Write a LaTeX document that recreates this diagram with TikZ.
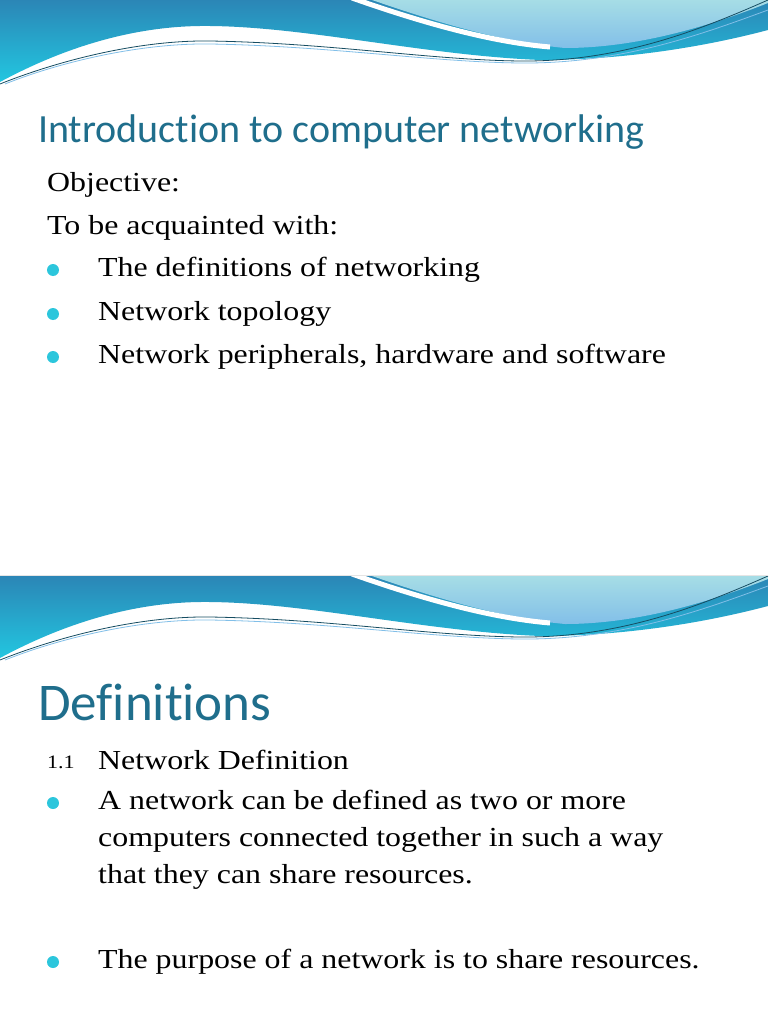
\documentclass[tikz,border=0pt]{standalone}
\usepackage{fontspec}
\setmainfont[FakeStretch=1.16]{Liberation Serif}
\newfontfamily\titlefont[Ligatures={NoCommon,NoRare,NoDiscretionary}]{Carlito}
\definecolor{ttl}{HTML}{1F6E8C}
\definecolor{bul}{HTML}{2CC6DC}
\definecolor{dkb}{HTML}{2B86B6}
\definecolor{cyb}{HTML}{22C6E0}
\definecolor{ltb}{HTML}{A6DDE6}
\definecolor{ltb2}{HTML}{82BFE8}
\tikzset{
  body/.style={anchor=west,inner sep=0pt,font=\fontsize{27.5}{32}\selectfont,text=black},
  bdot/.style={circle,fill=bul,inner sep=0pt,minimum size=12pt},
  ttlA/.style={anchor=west,inner sep=0pt,text=ttl,font=\titlefont\fontsize{40}{44}\selectfont},
  ttlB/.style={anchor=west,inner sep=0pt,text=ttl,font=\titlefont\fontsize{53}{58}\selectfont},
}
\newcommand{\wavehdr}{%
  \shade[top color=dkb,bottom color=cyb] (0,0) -- (768,0) -- (768,30) .. controls (700,48) and (620,60) .. (540,60) .. controls (420,55) and (300,25) .. (200,26) .. controls (120,27) and (50,55) .. (0,82) -- cycle;
  \shade[top color=ltb,bottom color=ltb2] (372,0) -- (768,0) -- (768,3) .. controls (700,30) and (630,48) .. (565,48) .. controls (500,42) and (430,20) .. (372,0) -- cycle;
  \draw[white,line width=5pt] (352,-2) .. controls (420,22) and (490,42) .. (550,47);
  \draw[ttl!70!black,line width=0.8pt] (0,84) .. controls (60,60) and (140,40) .. (210,41) .. controls (330,43) and (430,60) .. (520,61) .. controls (620,62) and (700,30) .. (768,0);
  \draw[ltb2,line width=0.8pt] (5,84) .. controls (60,62) and (140,43) .. (210,44) .. controls (330,46) and (430,62) .. (520,63) .. controls (620,64) and (700,35) .. (768,10);
}
\begin{document}
\begin{tikzpicture}[x=1pt,y=-1pt]
\useasboundingbox (0,0) rectangle (768,1024);
\fill[white] (0,0) rectangle (768,1024);
\begin{scope}\wavehdr\end{scope}
\begin{scope}[shift={(0,576)}]\wavehdr\end{scope}
\draw[gray!20] (0,575.5) -- (768,575.5);
% slide 1
\node[ttlA] (t1) at (38,132) {Introduction to computer networking};
\node[body] (o1) at (47,185) {Objective:};
\node[body] (o2) at (47,228) {To be acquainted with:};
\node[bdot] (b1) at (53,270) {};
\node[body] (l1) at (98,270) {The definitions of networking};
\node[bdot] (b2) at (53,314) {};
\node[body] (l2) at (98,314) {Network topology};
\node[bdot] (b3) at (53,357) {};
\node[body] (l3) at (98,357) {Network peripherals, hardware and software};
% slide 2
\node[ttlB] (t2) at (38,702) {Definitions};
\node[anchor=west,inner sep=0pt,font=\fontsize{19}{22}\selectfont] (n0) at (47,762) {1.1};
\node[body] (n1) at (98,760) {Network Definition};
\node[bdot] (b4) at (53,803) {};
\node[body,anchor=north west,align=left,font=\fontsize{27.5}{37}\selectfont] (d1) at (98,790) {A network can be defined as two or more\\computers connected together in such a way\\that they can share resources.};
\node[bdot] (b5) at (53,962) {};
\node[body] (d2) at (98,962) {The purpose of a network is to share resources.};
\end{tikzpicture}
\end{document}
